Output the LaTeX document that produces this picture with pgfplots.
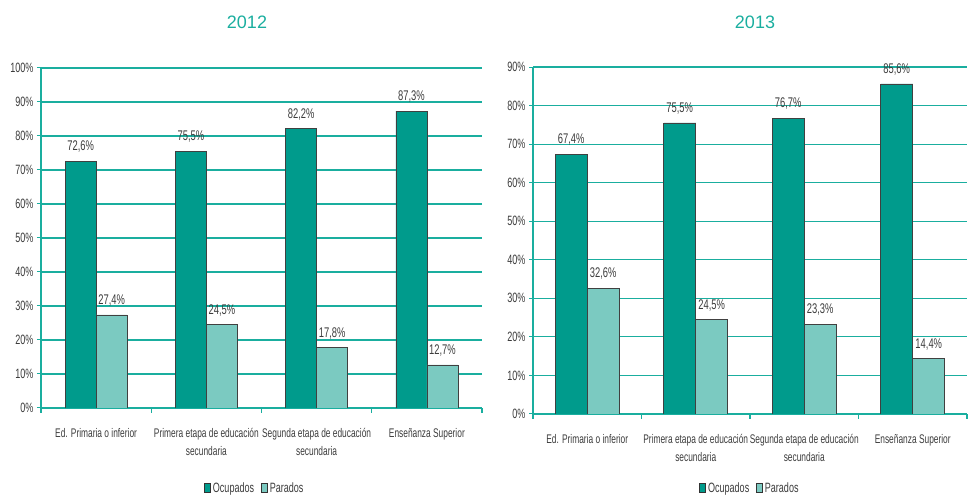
\documentclass[border=0pt]{standalone}
\usepackage{fontspec}
\setmainfont{Liberation Sans}[FakeStretch=0.67]
\newfontfamily\titlefont{Liberation Sans}
\usepackage{pgfplots}
\pgfplotsset{compat=1.18}
\definecolor{ocup}{HTML}{009B8C}
\definecolor{par}{HTML}{7BCAC1}
\definecolor{axc}{HTML}{1AAE9F}
\definecolor{txt}{HTML}{3C3C3C}
\pgfplotsset{
  mystyle/.style={
    scale only axis,
    ybar=0pt, bar width=31pt,
    xmin=-0.5, xmax=3.5, ymin=0,
    axis lines*=left,
    axis line style={draw=axc, line width=1.3pt},
    ymajorgrids, grid style={draw=axc, line width=1.2pt},
    xtick={0,1,2,3},
    xticklabels={Ed. Primaria o inferior, Primera etapa de educación\\secundaria, Segunda etapa de educación\\secundaria, Enseñanza Superior},
    minor xtick={-0.5,0.5,1.5,2.5,3.5},
    every major x tick/.style={draw=none},
    every minor x tick/.append style={draw=axc, line width=1.3pt},
    every major y tick/.append style={draw=axc, line width=1pt},
    minor tick length=5pt, major tick length=4pt,
    tick align=outside,
    /pgf/number format/assume math mode=true,
    xticklabel style={align=center, font=\fontsize{12.5}{17.5}\selectfont, text=txt, yshift=-13pt},
    yticklabel style={font=\fontsize{13.5}{15}\selectfont, text=txt},
    yticklabel={\pgfmathprintnumber{\tick}\%},
    nodes near coords={\pgfmathprintnumber[fixed,fixed zerofill,precision=1,use comma]{\pgfplotspointmeta}\%},
    every node near coord/.append style={font=\fontsize{14}{15}\selectfont, text=txt, yshift=5pt},
    legend columns=2,
    legend style={draw=none, fill=none, font=\fontsize{13.5}{15}\selectfont, text=txt,
      /tikz/every even column/.append style={column sep=5pt}, inner sep=1pt},
  },
  sq/.style={legend image code/.code={\draw[##1, draw=black!80, line width=0.6pt] (0pt,-4pt) rectangle (6pt,5pt);}}
}
\begin{document}
\begin{tikzpicture}[x=1pt,y=1pt]
\useasboundingbox (0,0) rectangle (974,495);
\node[text=axc, font=\titlefont\fontsize{18}{18}\selectfont] at (247,473) {2012};
\node[text=axc, font=\titlefont\fontsize{18}{18}\selectfont] at (755,473) {2013};
\begin{axis}[mystyle, at={(41pt,87pt)}, anchor=south west, width=441pt, height=340pt,
  ymax=100, ytick={0,10,...,100},
  legend style={at={(0.485,-0.235)}, anchor=center}]
\addplot[fill=ocup, draw=black!75, line width=0.6pt, sq] coordinates {(0,72.6) (1,75.5) (2,82.2) (3,87.3)};
\addplot[fill=par, draw=black!75, line width=0.6pt, sq] coordinates {(0,27.4) (1,24.5) (2,17.8) (3,12.7)};
\legend{Ocupados, Parados}
\end{axis}
\begin{axis}[mystyle, at={(533pt,81pt)}, anchor=south west, width=434pt, height=347pt,
  ymax=90, ytick={0,10,...,90}, bar width=32pt,
  legend style={at={(0.5,-0.213)}, anchor=center}]
\addplot[fill=ocup, draw=black!75, line width=0.6pt, sq] coordinates {(0,67.4) (1,75.5) (2,76.7) (3,85.6)};
\addplot[fill=par, draw=black!75, line width=0.6pt, sq] coordinates {(0,32.6) (1,24.5) (2,23.3) (3,14.4)};
\legend{Ocupados, Parados}
\end{axis}
\end{tikzpicture}
\end{document}
